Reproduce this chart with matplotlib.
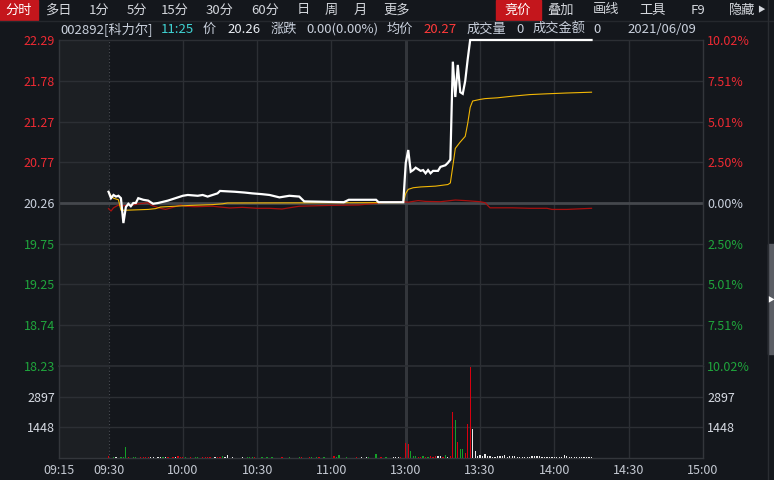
import matplotlib
matplotlib.use("Agg")
import matplotlib.pyplot as plt
from matplotlib.patches import Rectangle

plt.rcParams['font.family'] = ['Noto Sans CJK SC', 'DejaVu Sans']

# ---- data (minutes after 09:30, lunch removed; 120 = 13:00) ----
prev_close = 20.26
price_ticks = [22.29, 21.78, 21.27, 20.77, 20.26, 19.75, 19.25, 18.74, 18.23]
pct_labels = ["10.02%", "7.51%", "5.01%", "2.50%", "0.00%", "2.50%", "5.01%", "7.51%", "10.02%"]
vol_ticks = [1448, 2897]
time_ticks = [-20, 0, 30, 60, 90, 120, 150, 180, 210, 240]
time_labels = ["09:15", "09:30", "10:00", "10:30", "11:00", "13:00", "13:30", "14:00", "14:30", "15:00"]

price_t = [0, 1, 2, 3, 4, 5, 6, 7, 8, 9, 10, 11, 12, 13, 14, 16, 18, 20, 24, 27,
           30, 32, 36, 38, 40, 42, 44, 45, 51, 55, 58, 62, 65, 69, 73, 77, 79, 95, 97, 108,
           109, 119, 120, 121, 122, 123, 124, 126, 127, 128, 129, 130, 131, 133, 134, 136,
           137, 138, 139, 140, 141, 142, 143, 144, 145, 146, 195]
price = [20.40, 20.32, 20.36, 20.34, 20.35, 20.32, 20.01, 20.21, 20.25, 20.22, 20.26, 20.26,
         20.32, 20.31, 20.30, 20.29, 20.25, 20.26, 20.29, 20.32,
         20.35, 20.36, 20.35, 20.36, 20.34, 20.36, 20.38, 20.41, 20.40, 20.39, 20.38, 20.37,
         20.36, 20.33, 20.35, 20.34, 20.28, 20.27, 20.30, 20.30,
         20.27, 20.27, 20.76, 20.92, 20.65, 20.67, 20.70, 20.66, 20.67, 20.63, 20.67, 20.63,
         20.66, 20.66, 20.71, 20.73,
         20.76, 20.80, 22.02, 21.58, 21.98, 21.64, 21.62, 21.78, 22.05, 22.29, 22.29]

avg_t = [0, 1, 2, 4, 5, 7, 16, 19, 21, 27, 33, 42, 46, 48, 119,
         120, 121, 123, 126, 132, 137, 138, 139, 140, 142, 144, 145, 146, 147, 150, 152,
         157, 163, 170, 177, 185, 195]
avg = [20.40, 20.35, 20.32, 20.30, 20.17, 20.17, 20.18, 20.19, 20.21, 20.22, 20.23, 20.24,
       20.25, 20.26, 20.265,
       20.38, 20.43, 20.45, 20.46, 20.47, 20.49, 20.51, 20.72, 20.94, 21.02, 21.09, 21.25,
       21.45, 21.53, 21.55, 21.56, 21.57, 21.59, 21.61, 21.62, 21.63, 21.64]

idx_t = [0, 1, 2, 4, 5, 7, 10, 12, 14, 16, 17, 19, 21, 23, 26, 29, 31, 35, 42, 45, 49, 54,
         60, 65, 70, 77, 89, 101, 112, 119, 121, 125, 128, 134, 138, 140, 144, 150, 152,
         154, 163, 170, 177, 179, 185, 195]
idx = [20.19, 20.16, 20.20, 20.235, 20.22, 20.23, 20.235, 20.25, 20.256, 20.264, 20.235,
       20.214, 20.194, 20.18, 20.206, 20.235, 20.22, 20.214, 20.22, 20.21, 20.198, 20.206,
       20.194, 20.194, 20.185, 20.22, 20.23, 20.235, 20.27, 20.276, 20.27, 20.29, 20.28,
       20.276, 20.29, 20.297, 20.29, 20.276, 20.264, 20.20, 20.20, 20.194, 20.194, 20.18,
       20.18, 20.194]

vol = [
    80, 0, 45, 40, 0, 45, 45, 500, 45, 0,
    45, 45, 0, 45, 45, 45, 45, 45, 45, 0,
    45, 45, 45, 45, 45, 0, 45, 45, 90, 45,
    45, 45, 0, 45, 0, 45, 45, 0, 45, 45,
    45, 45, 0, 45, 70, 70, 90, 60, 130, 0,
    45, 0, 0, 0, 45, 0, 45, 45, 45, 45,
    0, 0, 45, 0, 45, 0, 45, 0, 0, 0,
    45, 0, 0, 45, 0, 0, 0, 45, 45, 0,
    0, 45, 45, 0, 45, 45, 0, 45, 0, 0,
    0, 90, 45, 120, 0, 0, 45, 0, 0, 0,
    45, 0, 45, 0, 45, 45, 0, 0, 190, 0,
    45, 0, 45, 0, 0, 45, 45, 45, 45, 0,
    700, 660, 330, 90, 100, 60, 60, 100, 70, 60,
    100, 60, 100, 100, 100, 60, 140, 50, 100, 2170,
    1800, 770, 420, 420, 250, 1600, 4300, 1370, 330, 80,
    140, 80, 190, 100, 100, 50, 50, 100, 80, 100,
    160, 50, 80, 100, 100, 70, 50, 50, 50, 50,
    70, 100, 100, 100, 100, 70, 50, 50, 50, 50,
    50, 50, 50, 50, 160, 100, 50, 50, 50, 50,
    50, 50, 50, 50, 50, 50,
]
# r = up, g = down, w = flat
vol_dir = ("r.gw.gggr." "gg.rrrrww." "wwgwr.rwrr" "rg.r.gg.rr" "rr.wrrgww."
           "w...w.gggr" "..g.g.g..." "r..g...gr." ".rg.gr.g.." ".rgg..g..."
           "r.w.wg..g." "r.g..wwwr."
           "rrgggrrgrg" "rrrwwrgwrr" "grggrrrwww" + "w" * 46)

# ---- style ----
BG = "#14171c"
GRID = "#2c2f34"
TXT = "#c9d0dc"
RED = "#ee2a33"
GREEN = "#1fa53c"
W, H = 774, 480
L, R = 59, 703

fig = plt.figure(figsize=(W / 100, H / 100), dpi=100, facecolor=BG)

ax = fig.add_axes([L / W, 1 - 366 / H, (R - L) / W, (366 - 40) / H], facecolor=BG)
axv = fig.add_axes([L / W, 1 - 458 / H, (R - L) / W, (458 - 366) / H], facecolor=BG, sharex=ax)

for a in (ax, axv):
    a.set_xlim(-20, 240)
    a.axvspan(-20, 0, color="#1c1f23", lw=0, zorder=0)
    for t in [30, 60, 90, 150, 180, 210]:
        a.axvline(t, color=GRID, lw=1, zorder=1)
    a.axvline(120, color="#33363b", lw=2.2, zorder=1)
    a.axvline(0, color="#4a4d52", lw=0.8, ls=(0, (1, 2)), zorder=1)
    for s in a.spines.values():
        s.set_color("#33363b")
        s.set_linewidth(1)
    a.tick_params(length=0)

ax.set_ylim(price_ticks[-1], price_ticks[0])
for p in price_ticks:
    if p != prev_close:
        ax.axhline(p, color=GRID, lw=1, zorder=1, clip_on=False)
ax.axhline(prev_close, color="#45484d", lw=2, zorder=1)
ax.spines["bottom"].set_visible(False)
ax.spines["top"].set_visible(False)
ax.set_yticks(price_ticks, labels=[f"{p:.2f}" for p in price_ticks])
ax.tick_params(axis="y", pad=3, labelsize=9)
ax.tick_params(axis="x", labelbottom=False)
ax_r = ax.twinx()
ax_r.set_ylim(ax.get_ylim())
ax_r.set_yticks(price_ticks, labels=pct_labels)
ax_r.tick_params(length=0, pad=3, labelsize=9)
ax_r.axis("on")
for s in ax_r.spines.values():
    s.set_visible(False)
for lab_l, lab_r, p in zip(ax.get_yticklabels(), ax_r.get_yticklabels(), price_ticks):
    c = RED if p > prev_close else (GREEN if p < prev_close else TXT)
    lab_l.set_color(c)
    lab_r.set_color(c)

ax.plot(idx_t, idx, color="#a8100f", lw=0.9, zorder=3)
ax.plot(avg_t, avg, color="#f2b705", lw=0.8, zorder=4)
ax.plot(price_t, price, color="white", lw=1.6, zorder=5, clip_on=False, solid_joinstyle="miter")

# volume
axv.set_ylim(0, vol_ticks[1] * 1.5)
for v in vol_ticks:
    axv.axhline(v, color=GRID, lw=1, zorder=1)
axv.spines["top"].set_visible(False)
axv.axhline(vol_ticks[1] * 1.5, color=GRID, lw=1.2, zorder=1, clip_on=False)
cmap = {"r": "#d7000f", "g": "#14a028", "w": "#e8e8e8", ".": BG}
axv.bar(range(len(vol)), vol, width=0.5, color=[cmap[c] for c in vol_dir], lw=0, zorder=3)
axv.set_yticks(vol_ticks, labels=[str(v) for v in vol_ticks])
axv.tick_params(axis="y", pad=3, labelsize=9, labelcolor="#d6dae2")
axv_r = axv.twinx()
axv_r.set_ylim(axv.get_ylim())
axv_r.set_yticks(vol_ticks, labels=[str(v) for v in vol_ticks])
axv_r.tick_params(length=0, pad=3, labelsize=9, labelcolor="#d6dae2")
for s in axv_r.spines.values():
    s.set_visible(False)
axv.set_xticks(time_ticks, labels=time_labels)
axv.tick_params(axis="x", pad=4, labelsize=9, labelcolor="#c4c9d2")

# ---- top tab bar ----
def fx(x):
    return x / W

def fy(y):
    return 1 - y / H

fig.patches.append(Rectangle((0, fy(20)), fx(38), 20 / H, transform=fig.transFigure,
                             color="#c4161c", zorder=0))
fig.patches.append(Rectangle((fx(496), fy(20)), fx(45), 20 / H, transform=fig.transFigure,
                             color="#c4161c", zorder=0))
fig.add_artist(plt.Line2D([0, 1], [fy(20.5), fy(20.5)], color="#25282d", lw=1))
fig.add_artist(plt.Line2D([fx(767.5), fx(767.5)], [0, 1], color="#2a2d32", lw=1))
fig.patches.append(Rectangle((fx(768), fy(354)), fx(6), 110 / H, transform=fig.transFigure,
                             color="#5a5d64", zorder=0))
fig.text(fx(771), fy(300), "▶", color="white", fontsize=5, ha="center", va="center")

tabs = [(19, "分时"), (58, "多日"), (99, "1分"), (137, "5分"), (175, "15分"), (220, "30分"),
        (265, "60分"), (303, "日"), (331, "周"), (360, "月"), (397, "更多"),
        (518, "竞价"), (561, "叠加"), (606, "画线"), (653, "工具"), (698, "F9"), (742, "隐藏")]
for x, s in tabs:
    fig.text(fx(x), fy(10), s, color="white" if s in ("分时", "竞价") else "#d4d7dd",
             fontsize=9.5, ha="center", va="center")
fig.text(fx(761), fy(10), "▶", color="#d4d7dd", fontsize=5.5, ha="center", va="center")

info = [(60, "002892[科力尔]", TXT), (161, "11:25", "#3fd3d3"), (203, "价", TXT),
        (227, "20.26", "#e8ecf2"), (271, "涨跌", TXT), (306, "0.00(0.00%)", TXT),
        (387, "均价", TXT), (423, "20.27", "#ff3a3a"), (467, "成交量", TXT), (516, "0", TXT),
        (533, "成交金额", TXT), (593, "0", TXT), (627, "2021/06/09", TXT)]
for x, s, c in info:
    fig.text(fx(x), fy(29.5), s, color=c, fontsize=9.5, ha="left", va="center")

fig.savefig("out.png", dpi=100, facecolor=BG)
